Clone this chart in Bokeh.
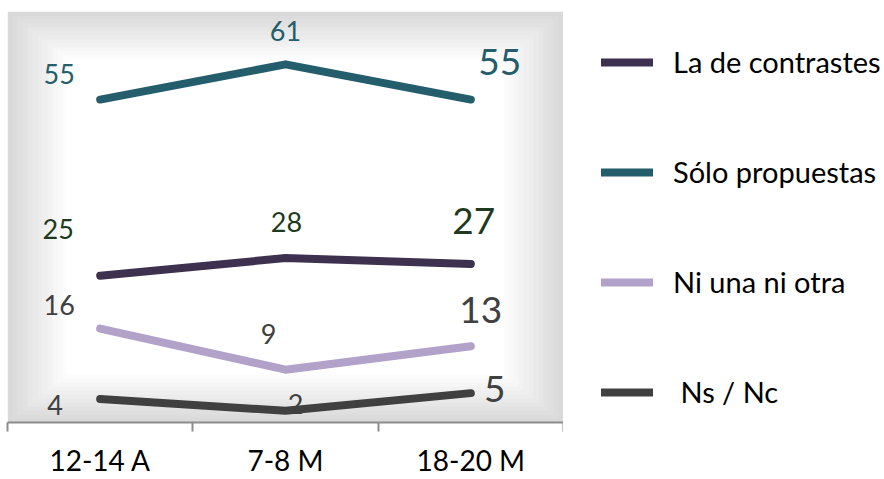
from bokeh.plotting import figure
from bokeh.layouts import row
from bokeh.models import (ColumnDataSource, Range1d, FixedTicker, Legend, LegendItem,
                          BoxAnnotation, Node)
from bokeh.core.properties import value
from bokeh.embed import file_html
from bokeh.resources import INLINE

# ---- data ----
periods = ["12-14 A", "7-8 M", "18-20 M"]
contrastes = [25, 28, 27]
solo_propuestas = [55, 61, 55]
ni_una = [16, 9, 13]
ns_nc = [4, 2, 5]

series_names = ["La de contrastes", "Sólo propuestas", "Ni una ni otra", " Ns / Nc"]
series_values = [contrastes, solo_propuestas, ni_una, ns_nc]
line_colors = ["#3E3150", "#245D6B", "#B2A1C8", "#404040"]
label_colors = ["#1F3A1F", "#245D6B", "#404040", "#404040"]
# label offsets (screen px) per series, per period
label_dx = [[-42, 1, 3], [-41, 0, 29], [-41, -17, 10], [-45, 10, 24]]
label_dy = [[-47, -36, -43], [-26, -33, -38], [-24, -36, -36], [6, -7, -4]]
label_sizes = ["27px", "27px", "37px"]

FONT = "Lato"
xs = list(range(len(periods)))
H = 479

p = figure(width=563, height=H, output_backend="svg", toolbar_location=None,
           x_range=Range1d(-0.5, len(periods) - 0.5), y_range=Range1d(0, 70),
           min_border_left=7, min_border_top=11, min_border_bottom=53,
           min_border_right=0, outline_line_color=None,
           background_fill_color="white", border_fill_color="white")

# gradient-like background (screen-relative insets)
n_bands = 13
for i in range(n_bands):
    g = int(round(217 + (255 - 217) * i / (n_bands - 1)))
    col = "#%02x%02x%02x" % (g, g, g)
    ix, iy = i * 5, i * 4
    p.add_layout(BoxAnnotation(
        left=Node(target="frame", symbol="left", offset=ix),
        right=Node(target="frame", symbol="right", offset=-ix),
        top=Node(target="frame", symbol="top", offset=iy),
        bottom=Node(target="frame", symbol="bottom", offset=-iy),
        fill_color=col, fill_alpha=1.0, line_alpha=0, level="underlay"))

p.xgrid.visible = False
p.ygrid.visible = False
p.yaxis.visible = False

ax = p.xaxis[0]
ax.ticker = FixedTicker(ticks=xs, minor_ticks=[x - 0.5 for x in xs] + [xs[-1] + 0.5])
ax.major_label_overrides = {x: lab for x, lab in zip(xs, periods)}
ax.major_tick_in = 0
ax.major_tick_out = 0
ax.major_tick_line_color = None
ax.minor_tick_in = 0
ax.minor_tick_out = 9
ax.minor_tick_line_color = "#8C8C8C"
ax.minor_tick_line_width = 2
ax.axis_line_color = "#8C8C8C"
ax.axis_line_width = 2
ax.major_label_standoff = 11
ax.major_label_text_font = FONT
ax.major_label_text_font_size = "28px"
ax.major_label_text_color = "#000000"

# data labels (drawn first so lines sit on top)
for vals, lc, dxs, dys in zip(series_values, label_colors, label_dx, label_dy):
    src = ColumnDataSource(dict(x=xs, y=vals, t=[str(v) for v in vals],
                                dx=dxs, dy=dys, fs=label_sizes))
    p.text(x="x", y="y", text="t", source=src, x_offset="dx", y_offset="dy",
           text_font=value(FONT), text_font_size="fs", text_color=lc,
           text_align="center", text_baseline="middle")

for vals, col in zip(series_values, line_colors):
    p.line(xs, vals, line_color=col, line_width=8, line_cap="round",
           line_join="round")

# legend panel (separate figure; its series lines fall outside its range,
# they only carry the styles for the legend glyphs)
pl = figure(width=320, height=H, output_backend="svg", toolbar_location=None,
            x_range=Range1d(0, 1), y_range=Range1d(-2, -1), min_border=0,
            x_axis_type=None, y_axis_type=None,
            outline_line_color=None, background_fill_color="white",
            border_fill_color="white")
pl.grid.visible = False
items = []
for name, vals, col in zip(series_names, series_values, line_colors):
    r = pl.line(x=xs, y=vals, line_color=col, line_width=8, line_cap="round")
    items.append(LegendItem(label=name, renderers=[r]))

legend = Legend(items=items, location=(38, 13), margin=0, padding=0,
                spacing=75, glyph_width=52, glyph_height=32, label_height=32,
                label_standoff=20, label_text_font=FONT,
                label_text_font_size="29px", label_text_color="#000000",
                border_line_alpha=0, background_fill_alpha=0)
pl.add_layout(legend)

layout = row(p, pl, spacing=0)
open("out.html", "w").write(file_html(layout, INLINE))
